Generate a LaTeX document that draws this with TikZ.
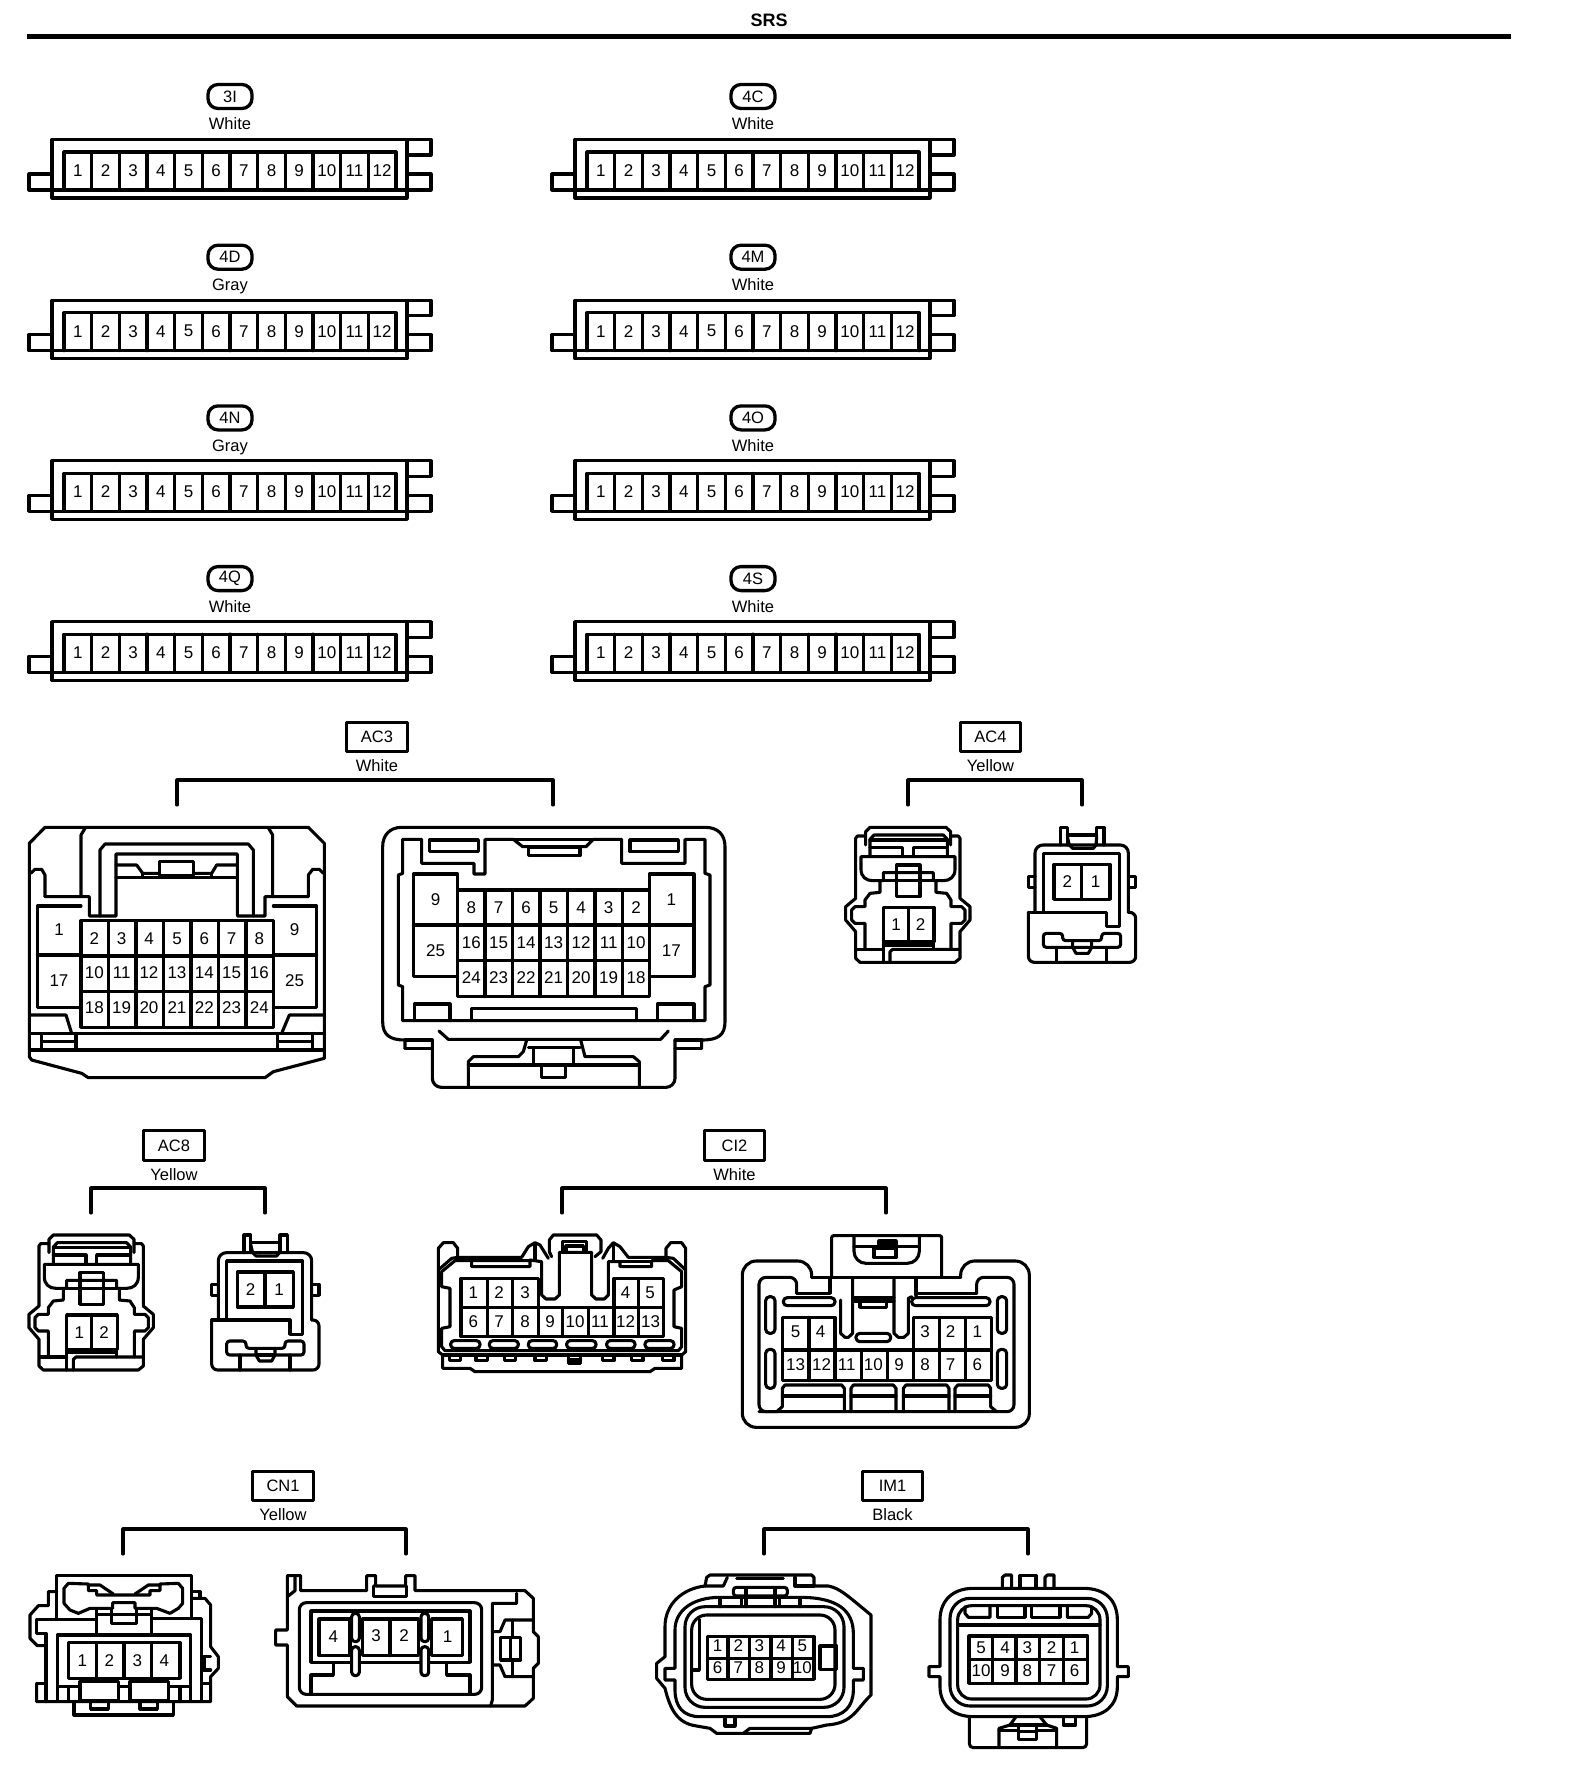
\documentclass[tikz,border=0pt]{standalone}
\usepackage{fontspec}
\setmainfont{Liberation Sans}
\newcount\pinid
\tikzset{
  zoomat/.style 2 args={shift={(#1,#2)},x=0.33333pt,y=-0.33333pt},
  pinlabel/.style={inner sep=0pt,font=\fontsize{17}{17}\selectfont},
  codelabel/.style={draw,line width=3.1pt,inner sep=0pt,font=\fontsize{16.5}{17}\selectfont,anchor=center},
  ovallabel/.style={draw,line width=3.3pt,rounded corners=10pt,inner sep=0pt,minimum width=44pt,minimum height=24pt,font=\fontsize{16.5}{17}\selectfont},
  colourlabel/.style={inner sep=0pt,anchor=base,font=\fontsize{16.5}{17}\selectfont}
}
\newcommand{\pinat}[3]{\global\advance\pinid by 1 \node[pinlabel,name=pin\the\pinid] at (#1,#2) {#3};}
\newcommand{\pinrow}[2]{\foreach \px/\pt in {#2}{\pinat{\px}{#1}{\pt}}}
% strip connector: id, x shift, y shift, code, colour
\newcommand{\stripconn}[5]{%
\begin{scope}[shift={(#2,#3)}]
  \node[ovallabel] (#1code) at (230,96.5) {#4};
  \node[colourlabel] (#1col) at (230,130) {#5};
  \draw (52,139.5) rectangle (407,198);
  \draw (29,174) rectangle (52,190);
  \draw (407,139.5) rectangle (431,155);
  \draw (407,174) rectangle (431,190);
  \draw (52,190) -- (407,190);
  \draw (64,190) -- (64,152) -- (396,152) -- (396,190);
  \foreach \i in {1,...,11}{\draw ({64+27.667*\i},152) -- ({64+27.667*\i},190);}
  \foreach \i in {1,...,12}{\pinat{{64+27.667*(\i-0.5)}}{170.5}{\i}}
\end{scope}}
% boxed code with colour and bracket
\newcommand{\boxcode}[7]{%
  \node[codelabel,minimum width=#3pt-#2pt-3.1pt,minimum height=#5pt-#4pt-3.1pt] (#1code) at ({(#2+#3)/2},{(#4+#5)/2}) {#6};
  \node[colourlabel] (#1col) at ({(#2+#3)/2},{#5+18}) {#7};}
\newcommand{\bracketat}[5]{%
  \coordinate (#1A) at (#2,#5); \coordinate (#1B) at (#3,#5); \coordinate (#1T) at ({(#2+#3)/2},#4);
  \draw (#1A) |- (#1T) -| (#1B);}
% small 2-way housings, shared by AC4 and AC8
\newcommand{\twowayplug}{%
  \draw (107,378) -- (107,365) -- (120,352) -- (348,352) -- (362,365) -- (362,378);
  \draw (107,405) -- (107,378) -- (82,378) -- (77,385) -- (77,565) -- (47,590) -- (47,630) -- (77,665) -- (77,745) -- (90,757) -- (375,757) -- (390,745) -- (390,665) -- (420,630) -- (420,590) -- (390,565) -- (390,385) -- (385,378) -- (362,378) -- (362,405);
  \draw (120,438) -- (120,388) -- (132,375) -- (340,375) -- (352,388) -- (352,438);
  \draw (120,390) -- (352,390);
  \draw (120,412) -- (218,412) -- (218,440);
  \draw (250,440) -- (250,412) -- (352,412);
  \draw (93,440) -- (375,440) -- (375,478) .. controls (375,500) and (360,512) .. (340,512) -- (310,512) -- (310,488) -- (160,488) -- (160,512) -- (128,512) .. controls (108,512) and (93,500) .. (93,478) -- cycle;
  \draw (200,465) rectangle (270,560);
  \draw (160,512) -- (310,512);
  \draw (150,512) -- (150,547) -- (120,550) -- (105,570) -- (105,590) -- (75,590) -- (65,600) -- (65,630) -- (75,640) -- (105,640) -- (105,718);
  \draw (318,512) -- (318,547) -- (350,550) -- (363,570) -- (363,590) -- (395,590) -- (405,600) -- (405,630) -- (395,640) -- (363,640) -- (363,718);
  \draw (160,592) rectangle (312,695);
  \draw (235,592) -- (235,695);
  \draw (80,718) -- (160,718);
  \draw (160,695) -- (160,757);
  \draw (310,695) -- (310,718);
  \draw (160,705) -- (310,705);
  \draw (180,757) -- (180,725) -- (188,718) -- (388,718);
  \pinat{198}{645}{1}\pinat{272}{645}{2}}
\newcommand{\twowaysocket}{%
  \draw (692,405) -- (692,352) -- (712,352) -- (712,405);
  \draw (800,405) -- (800,352) -- (822,352) -- (822,405);
  \draw (712,375) -- (800,375);
  \draw (712,380) -- (718,405) -- (728,415) -- (790,415) -- (798,405) -- (800,380);
  \draw[rounded corners=8pt] (615,607) -- (615,405) -- (895,405) -- (895,607);
  \draw (615,500) -- (595,500) -- (595,533) -- (615,533);
  \draw (895,500) -- (917,500) -- (917,533) -- (895,533);
  \draw (640,607) -- (640,430) -- (868,430) -- (868,650) -- (830,650) -- (830,607) -- (595,607);
  \draw[rounded corners=6pt] (595,607) -- (595,757) -- (917,757) -- (917,607) -- (895,607);
  \draw (672,463) rectangle (840,568);
  \draw (755,463) -- (755,568);
  \draw[rounded corners=3pt] (640,670) -- (698,670) -- (698,692) -- (815,692) -- (815,670) -- (872,670) -- (872,712) -- (640,712) -- cycle;
  \draw (680,712) -- (680,757);
  \draw (830,712) -- (830,757);
  \draw (728,692) -- (728,712) -- (738,730) -- (775,730) -- (785,712) -- (785,692);
  \draw (728,712) -- (785,712);
  \pinat{712}{515}{2}\pinat{797}{515}{1}}
\begin{document}
\begin{tikzpicture}[x=1pt,y=-1pt,line width=3.1pt,line join=round,line cap=round]
\useasboundingbox (0,0) rectangle (1568,1782);
\fill[white] (0,0) rectangle (1568,1782);
% title
\node[inner sep=0pt,font=\bfseries\fontsize{18}{18}\selectfont] (title) at (769,20) {SRS};
\coordinate (ruleL) at (27,36.5);
\coordinate (ruleR) at (1511,36.5);
\draw[line width=5pt,line cap=butt] (ruleL) -- (ruleR);
% strip connectors
\stripconn{a}{0}{0}{3I}{White}
\stripconn{b}{523}{0}{4C}{White}
\stripconn{c}{0}{160.7}{4D}{Gray}
\stripconn{d}{523}{160.7}{4M}{White}
\stripconn{e}{0}{321.4}{4N}{Gray}
\stripconn{f}{523}{321.4}{4O}{White}
\stripconn{g}{0}{482.1}{4Q}{White}
\stripconn{h}{523}{482.1}{4S}{White}
% labelled groups
\boxcode{acthree}{345}{409}{721}{753}{AC3}{White}
\bracketat{acthree}{177}{553}{780}{805}
\boxcode{acfour}{959}{1022}{721}{753}{AC4}{Yellow}
\bracketat{acfour}{908}{1082}{780}{805}
\boxcode{aceight}{142}{206}{1129}{1162}{AC8}{Yellow}
\bracketat{aceight}{91}{265}{1188}{1213}
\boxcode{citwo}{703}{766}{1129}{1162}{CI2}{White}
\bracketat{citwo}{562}{886}{1188}{1213}
\boxcode{cnone}{251}{315}{1470}{1502}{CN1}{Yellow}
\bracketat{cnone}{123}{406}{1529}{1554}
\boxcode{imone}{861}{924}{1470}{1502}{IM1}{Black}
\bracketat{imone}{764}{1028}{1529}{1554}
% AC3 left
\begin{scope}[zoomat={0}{710}]
  \draw (88,400) -- (135,352) -- (925,352) -- (973,400) -- (973,1045) -- (820,1085) -- (795,1103) -- (265,1103) -- (245,1090) -- (95,1050) -- (88,1040) -- cycle;
  \draw (135,560) -- (243,560) -- (243,375) -- (255,355);
  \draw (818,560) -- (818,375) -- (806,355);
  \draw (92,490) -- (105,478) -- (125,478) -- (135,495) -- (135,560);
  \draw (243,560) -- (268,560) -- (268,618) -- (348,618) -- (348,432) -- (712,432) -- (712,618) -- (795,618) -- (795,560) -- (925,560) -- (925,495) -- (938,478) -- (958,478) -- (970,490);
  \draw (300,618) -- (300,420) -- (315,402) -- (745,402) -- (760,420) -- (760,618);
  \draw (348,465) -- (410,465) -- (428,490) -- (478,490);
  \draw (478,455) rectangle (580,497);
  \draw (580,490) -- (635,490) -- (650,465) -- (712,465);
  \draw (348,503) -- (712,503);
  \draw (428,490) -- (428,503);
  \draw (635,490) -- (635,503);
  \draw (243,632) rectangle (820,952);
  \foreach \x in {325,408,490,573,655,738}{\draw (\x,632) -- (\x,952);}
  \draw (243,738) -- (820,738);
  \draw (243,845) -- (820,845);
  \draw (243,588) -- (112,588) -- (112,892) -- (243,892);
  \draw (112,735) -- (243,735);
  \draw (820,588) -- (950,588) -- (950,892) -- (820,892);
  \draw (820,735) -- (950,735);
  \draw (90,915) -- (198,915) -- (215,970);
  \draw (973,915) -- (868,915) -- (845,970);
  \draw (90,970) -- (973,970);
  \draw (90,1020) -- (973,1020);
  \draw (125,970) -- (125,1020);
  \draw (228,970) -- (228,1020);
  \draw (125,995) -- (228,995);
  \draw (833,970) -- (833,1020);
  \draw (938,970) -- (938,1020);
  \draw (833,995) -- (938,995);
  \pinat{177}{658}{1}\pinat{177}{812}{17}\pinat{884}{658}{9}\pinat{884}{812}{25}
  \pinrow{685}{283/2,365/3,447/4,531/5,613/6,695/7,778/8}
  \pinrow{788}{283/10,365/11,447/12,531/13,613/14,695/15,778/16}
  \pinrow{893}{283/18,365/19,447/20,531/21,613/22,695/23,778/24}
\end{scope}
% AC3 right
\begin{scope}[zoomat={370}{710}]
  \draw (105,1015) -- (105,990) .. controls (60,990) and (38,975) .. (38,935) -- (38,410) .. controls (38,375) and (60,352) .. (95,352) -- (1005,352) .. controls (1045,352) and (1065,375) .. (1065,410) -- (1065,935) .. controls (1065,975) and (1045,990) .. (995,990) -- (995,1015);
  \draw (105,1015) -- (187,1015);
  \draw (995,1015) -- (915,1015);
  \draw (105,990) -- (187,990);
  \draw (915,990) -- (995,990);
  \draw[rounded corners=9pt] (187,990) -- (187,1132) -- (915,1132) -- (915,990);
  \draw (98,388) -- (155,388) -- (155,460) -- (312,460) -- (312,492) -- (345,492) -- (345,388) -- (430,388) -- (458,410) -- (648,410) -- (670,388) -- (755,388) -- (755,460) -- (945,460) -- (945,388) -- (1005,388) -- (1005,490) -- (1020,495) -- (1020,825) -- (1005,830) -- (1005,932) -- (98,932) -- (98,830) -- (85,825) -- (85,495) -- (98,490) -- cycle;
  \draw (178,390) rectangle (325,425);
  \draw (780,390) rectangle (925,425);
  \draw (430,388) -- (670,388);
  \draw (475,412) rectangle (630,437);
  \draw (263,540) rectangle (838,860);
  \foreach \x in {345,427,510,592,675,757}{\draw (\x,540) -- (\x,860);}
  \draw (263,645) -- (838,645);
  \draw (263,752) -- (838,752);
  \draw (263,540) -- (263,492) -- (130,492) -- (130,800) -- (263,800);
  \draw (130,645) -- (263,645);
  \draw (838,540) -- (838,492) -- (972,492) -- (972,800) -- (838,800);
  \draw (838,645) -- (972,645);
  \draw (133,932) -- (133,882) -- (240,882) -- (240,932);
  \draw (305,932) -- (305,895) -- (800,895) -- (800,932);
  \draw (862,932) -- (862,882) -- (972,882) -- (972,932);
  \draw (207,963) -- (235,988) -- (872,988) -- (895,963);
  \draw (470,990) -- (460,1025) -- (445,1040) -- (310,1040) -- (295,1055) -- (295,1132);
  \draw (632,990) -- (645,1040) -- (790,1040) -- (808,1055) -- (808,1132);
  \draw (295,1065) -- (808,1065);
  \draw (490,1012) -- (490,1063);
  \draw (610,1012) -- (610,1063);
  \draw (475,1012) -- (630,1012);
  \draw (515,1065) -- (515,1103) -- (587,1103) -- (587,1065);
  \pinat{197}{568}{9}\pinat{197}{722}{25}\pinat{904}{568}{1}\pinat{904}{722}{17}
  \pinrow{592}{304/8,386/7,468/6,551/5,633/4,716/3,798/2}
  \pinrow{698}{304/16,386/15,468/14,551/13,633/12,716/11,798/10}
  \pinrow{803}{304/24,386/23,468/22,551/21,633/20,716/19,798/18}
\end{scope}
% AC4 and AC8
\begin{scope}[zoomat={830}{710}]
  \twowayplug
  \twowaysocket
\end{scope}
\begin{scope}[zoomat={13.33}{1117.67}]
  \twowayplug
  \twowaysocket
\end{scope}
% CI2 left
\begin{scope}[zoomat={420}{1120}]
  \draw (113,412) -- (113,385) -- (100,368) -- (70,368) -- (55,385) -- (55,695) -- (68,705) -- (68,745) -- (150,745) -- (165,755) -- (690,755) -- (705,745) -- (785,745) -- (785,705) -- (797,695) -- (797,385) -- (785,368) -- (752,368) -- (738,385) -- (738,412);
  \draw (55,450) -- (95,415) -- (113,412) -- (305,412) -- (325,380) -- (345,368) -- (360,375) -- (385,415);
  \draw (797,450) -- (760,415) -- (738,412) -- (625,412) -- (600,380) -- (580,368) -- (565,385) -- (548,415);
  \draw (65,500) -- (65,455) -- (105,422) -- (330,422);
  \draw (155,422) -- (155,440) -- (330,440) -- (330,420) -- (365,425) -- (365,525) -- (378,537) -- (405,537) -- (418,525) -- (418,397) -- (515,397) -- (515,525) -- (528,537) -- (553,537) -- (565,525) -- (565,425) -- (600,425) -- (600,440) -- (695,440) -- (695,422) -- (745,422) -- (785,455) -- (785,500);
  \draw (600,425) -- (695,425);
  \draw (345,372) -- (345,420);
  \draw (580,372) -- (580,420);
  \draw (395,410) -- (388,395) -- (388,360) -- (400,345) -- (530,345) -- (543,360) -- (543,395) -- (525,410);
  \draw (428,397) -- (428,365) -- (500,365) -- (500,397);
  \draw (438,397) -- (438,378) -- (490,378) -- (490,397);
  \draw (65,500) -- (90,505) -- (90,620) -- (65,625) -- (65,680) -- (75,692) -- (775,692) -- (785,680) -- (785,625) -- (762,620) -- (762,510) -- (785,500);
  \draw (70,705) -- (785,705);
  \foreach \x in {105,185,270,362,565,652,745}{\draw (\x-17,708) -- (\x-17,722) -- (\x+17,722) -- (\x+17,708);}
  \draw (445,708) -- (445,730) -- (482,730) -- (482,708);
  \draw (445,720) -- (482,720);
  \foreach \a/\b in {92/180,208/295,325/410,440/528,560/645,675/762}{\draw[rounded corners=3.4pt] (\a,662) rectangle (\b,685);}
  \draw (123,562) -- (123,475) -- (355,475) -- (355,562);
  \draw (203,475) -- (203,562);
  \draw (278,475) -- (278,562);
  \draw (582,562) -- (582,475) -- (730,475) -- (730,562);
  \draw (655,475) -- (655,562);
  \draw (123,562) rectangle (730,650);
  \foreach \x in {203,278,355,428,505,582,655}{\draw (\x,562) -- (\x,650);}
  \pinrow{517}{160/1,237/2,315/3,617/4,690/5}
  \pinrow{605}{160/6,237/7,315/8,390/9,465/10,540/11,617/12,692/13}
\end{scope}
% CI2 right
\begin{scope}[zoomat={730}{1120}]
  \draw[rounded corners=14pt] (245,472) -- (245,423) -- (37,423) -- (37,922) -- (898,922) -- (898,423) -- (692,423) -- (692,472);
  \draw (245,472) -- (692,472);
  \draw[rounded corners=2pt] (305,472) -- (305,347) -- (635,347) -- (635,472);
  \draw[rounded corners=12pt] (372,347) -- (372,430) -- (568,430) -- (568,347);
  \draw (372,380) -- (568,380);
  \draw (432,385) rectangle (498,413);
  \draw (447,385) -- (447,363) -- (498,363) -- (498,385);
  \draw (447,373) -- (498,373);
  \draw (300,478) -- (300,520) -- (200,520);
  \draw (740,520) -- (560,520);
  \draw[rounded corners=7pt] (200,520) -- (200,472) -- (87,472) -- (87,875) -- (852,875) -- (852,472) -- (740,472) -- (740,520);
  \draw[rounded corners=3.8pt] (160,533) rectangle (315,557);
  \draw[rounded corners=3.8pt] (545,533) rectangle (780,557);
  \draw (332,540) -- (332,640) -- (345,652) -- (355,652) -- (368,640) -- (368,478);
  \draw (492,478) -- (492,640) -- (505,652) -- (522,652) -- (535,640) -- (535,535) -- (545,530);
  \draw (558,478) -- (558,525);
  \draw (368,532) -- (492,532);
  \draw (368,543) -- (492,543);
  \draw (390,545) -- (390,562) -- (470,562) -- (470,545);
  \draw[rounded corners=3.8pt] (378,640) rectangle (482,665);
  \foreach \a in {107,802}{
    \draw[rounded corners=4pt] (\a,530) rectangle (\a+28,640);
    \draw[rounded corners=4pt] (\a,688) rectangle (\a+28,805);}
  \draw (157,690) -- (157,592) -- (315,592) -- (315,690);
  \draw (237,592) -- (237,690);
  \draw (550,690) -- (550,592) -- (785,592) -- (785,690);
  \draw (628,592) -- (628,690);
  \draw (706,592) -- (706,690);
  \draw (157,690) rectangle (785,782);
  \foreach \x in {237,315,395,472,550,628,706}{\draw (\x,690) -- (\x,782);}
  \draw (87,875) -- (140,875) -- (157,860) -- (157,805) -- (165,795) -- (335,795) -- (343,805) -- (343,875);
  \draw (157,828) -- (343,828);
  \draw (363,875) -- (363,805) -- (370,795) -- (490,795) -- (498,805) -- (498,875);
  \draw (363,828) -- (498,828);
  \draw (520,875) -- (520,805) -- (528,795) -- (650,795) -- (657,805) -- (657,875);
  \draw (520,828) -- (657,828);
  \draw (675,875) -- (675,805) -- (683,795) -- (775,795) -- (782,805) -- (782,860) -- (800,875);
  \draw (675,828) -- (782,828);
  \pinrow{635}{197/5,272/4,585/3,662/2,742/1}
  \pinrow{733}{197/13,275/12,350/11,430/10,507/9,585/8,662/7,742/6}
\end{scope}
% CN1 left
\begin{scope}[zoomat={0}{1460}]
  \draw (170,473) -- (170,347) -- (575,347) -- (575,473);
  \draw (170,395) -- (145,395) -- (145,437) -- (115,437) -- (90,465) -- (90,535) -- (112,557) -- (138,557);
  \draw (110,670) -- (138,670);
  \draw (110,670) -- (110,725) -- (632,725) -- (632,650) -- (655,625) -- (655,590) -- (632,560) -- (632,435) -- (615,415) -- (575,415);
  \draw (575,395) -- (600,395) -- (600,415);
  \draw (110,478) -- (290,478);
  \draw (455,475) -- (605,475) -- (605,725);
  \draw (605,670) -- (632,670);
  \draw (110,478) -- (110,520) -- (138,520) -- (138,725);
  \draw (172,725) -- (172,525) -- (572,525) -- (572,725);
  \draw (612,590) -- (632,590);
  \draw (612,630) -- (632,630);
  \draw (612,590) -- (612,630);
  \draw (192,430) -- (192,385) -- (205,370) -- (265,372) -- (265,392) -- (290,392) -- (290,405) -- (450,405) -- (450,392) -- (480,392) -- (480,372) -- (535,370) -- (548,385) -- (548,430) -- (535,445) -- (510,460) -- (470,445) -- (405,445) -- (405,428) -- (338,428) -- (338,445) -- (270,445) -- (235,460) -- (210,450) -- cycle;
  \draw (265,375) -- (300,375) -- (340,402);
  \draw (480,375) -- (445,375) -- (405,402);
  \draw (290,445) -- (290,525);
  \draw (455,445) -- (455,525);
  \draw (290,463) -- (455,463);
  \draw (335,445) -- (335,490) -- (410,490) -- (410,445);
  \draw (205,548) rectangle (540,655);
  \foreach \x in {290,372,455}{\draw (\x,548) -- (\x,655);}
  \draw (172,680) -- (240,680);
  \draw (355,680) -- (390,680);
  \draw (505,680) -- (572,680);
  \draw (240,665) rectangle (355,722);
  \draw (390,665) rectangle (505,722);
  \draw (205,680) -- (205,725);
  \draw (540,680) -- (540,725);
  \draw (222,725) -- (222,765) -- (520,765) -- (520,725);
  \draw (272,728) -- (272,747) -- (325,747) -- (325,728);
  \draw (420,728) -- (420,747) -- (472,747) -- (472,728);
  \pinrow{603}{247/1,328/2,412/3,493/4}
\end{scope}
% CN1 right
\begin{scope}[zoomat={260}{1460}]
  \draw (82,400) -- (82,347) -- (122,347) -- (122,392) -- (320,392) -- (320,347) -- (347,347) -- (347,378) -- (437,378) -- (437,347) -- (465,347) -- (465,392) -- (795,392) -- (820,415) -- (820,515) -- (835,530) -- (835,610) -- (820,625) -- (820,715) -- (795,738) -- (110,738) -- (82,710) -- (82,555) -- (47,555) -- (47,510) -- (82,510) -- cycle;
  \draw (105,352) -- (105,392) -- (82,410);
  \draw (340,378) -- (340,410) -- (440,410) -- (440,378);
  \draw[rounded corners=7pt] (118,428) rectangle (665,703);
  \draw (153,703) -- (153,645) -- (220,645) -- (220,607);
  \draw (630,703) -- (630,645) -- (560,645) -- (560,607);
  \draw (153,453) rectangle (630,607);
  \draw (177,477) rectangle (270,587);
  \draw (307,477) rectangle (475,587);
  \draw (390,477) -- (390,587);
  \draw (515,477) rectangle (607,587);
  \foreach \a in {275,483}{
    \draw[fill=white,rounded corners=3.5pt] (\a,460) rectangle (\a+23,545);
    \draw[fill=white,rounded corners=3.5pt] (\a,560) rectangle (\a+23,647);}
  \draw (692,738) -- (697,720) -- (697,430) -- (770,430) -- (770,400);
  \draw (697,515) -- (720,515) -- (735,480) -- (820,480);
  \draw (697,615) -- (720,615) -- (735,650) -- (820,650);
  \draw (758,480) -- (758,533);
  \draw (758,600) -- (758,650);
  \draw (722,533) rectangle (782,600);
  \draw (752,533) -- (752,600);
  \pinat{220}{530}{4}\pinat{348}{527}{3}\pinat{432}{527}{2}\pinat{563}{530}{1}
\end{scope}
% IM1 left
\begin{scope}[zoomat={640}{1460}]
  \draw (195,378) -- (200,352) -- (210,345) -- (515,345) -- (522,352) -- (522,378) -- (565,378) .. controls (600,385) and (620,405) .. (693,465) -- (693,705) .. controls (650,745) and (640,790) .. (560,795) -- (515,805) -- (510,820) -- (230,820) -- (210,805) -- (170,798) .. controls (110,790) and (90,745) .. (75,685) -- (50,655) -- (50,610) -- (75,590) -- (75,500) .. controls (75,430) and (130,385) .. (195,378) -- cycle;
  \draw (195,378) -- (250,378) -- (262,352);
  \draw (465,352) -- (465,378) -- (522,378);
  \draw (290,356) -- (430,356);
  \draw (105,625) -- (105,510) .. controls (105,450) and (160,412) .. (240,412) -- (480,412) .. controls (590,412) and (640,450) .. (640,520) -- (640,625) -- (670,625) -- (670,660) -- (640,660) -- (640,690) .. controls (640,740) and (610,770) .. (560,770) -- (180,770) .. controls (130,770) and (105,740) .. (105,690) -- (105,660) -- (75,660) -- (75,625) -- cycle;
  \draw[rounded corners=20pt] (135,440) rectangle (612,742);
  \draw[rounded corners=15pt] (155,465) rectangle (585,718);
  \draw (178,478) -- (178,630) -- (160,630);
  \draw (240,440) -- (240,415);
  \draw (480,440) -- (480,415);
  \draw[rounded corners=3pt] (280,408) -- (280,382) -- (442,382) -- (442,408) -- cycle;
  \draw (305,440) -- (305,410);
  \draw (318,440) -- (318,385);
  \draw (405,440) -- (405,385);
  \draw (418,440) -- (418,410);
  \draw (255,770) -- (255,798) -- (285,798) -- (285,770);
  \draw (310,820) -- (330,805) -- (515,805);
  \draw (202,530) rectangle (522,658);
  \draw (202,595) -- (522,595);
  \foreach \x in {264,328,393,457}{\draw (\x,530) -- (\x,658);}
  \draw (540,558) -- (590,558) -- (590,628) -- (540,628) -- cycle;
  \pinrow{558}{233/1,295/2,358/3,423/4,487/5}
  \pinrow{623}{233/6,295/7,358/8,423/9,487/10}
\end{scope}
% IM1 right
\begin{scope}[zoomat={910}{1460}]
  \draw (90,620) -- (90,480) .. controls (90,420) and (130,385) .. (190,385) -- (520,385) .. controls (585,385) and (622,420) .. (622,480) -- (622,620) -- (655,620) -- (655,650) -- (622,650) -- (622,680) .. controls (622,735) and (585,770) .. (520,770) -- (190,770) .. controls (130,770) and (90,735) .. (90,680) -- (90,650) -- (57,650) -- (57,620) -- cycle;
  \draw (277,382) -- (277,352) -- (285,345) -- (305,345) -- (305,382);
  \draw (330,382) -- (330,347) -- (378,347) -- (378,382);
  \draw (405,382) -- (405,352) -- (412,345) -- (432,345) -- (432,382);
  \draw[rounded corners=20pt] (120,415) rectangle (592,738);
  \draw[rounded corners=14pt] (143,437) rectangle (570,717);
  \draw (165,440) -- (165,460) -- (175,472) -- (240,472) -- (240,440);
  \draw (262,440) -- (262,472) -- (345,472) -- (345,440);
  \draw (365,440) -- (365,472) -- (450,472) -- (450,440);
  \draw (472,440) -- (472,472) -- (535,472) -- (545,460) -- (545,440);
  \draw (145,495) -- (570,495);
  \draw (177,528) rectangle (533,670);
  \draw (177,598) -- (533,598);
  \foreach \x in {248,318,388,460}{\draw (\x,528) -- (\x,670);}
  \draw[rounded corners=4pt] (178,770) -- (178,863) -- (530,863) -- (530,770);
  \draw (267,863) -- (267,805) -- (300,795) -- (318,770);
  \draw (440,863) -- (440,805) -- (410,795) -- (390,770);
  \draw (300,795) -- (410,795);
  \draw (325,795) -- (325,838) -- (380,838) -- (380,795);
  \draw (325,815) -- (380,815);
  \draw (267,812) -- (325,812);
  \draw (380,812) -- (440,812);
  \draw (460,770) -- (460,795) -- (497,795) -- (497,770);
  \pinrow{563}{213/5,285/4,352/3,425/2,494/1}
  \pinrow{632}{213/10,285/9,352/8,425/7,494/6}
\end{scope}
\end{tikzpicture}
\end{document}
